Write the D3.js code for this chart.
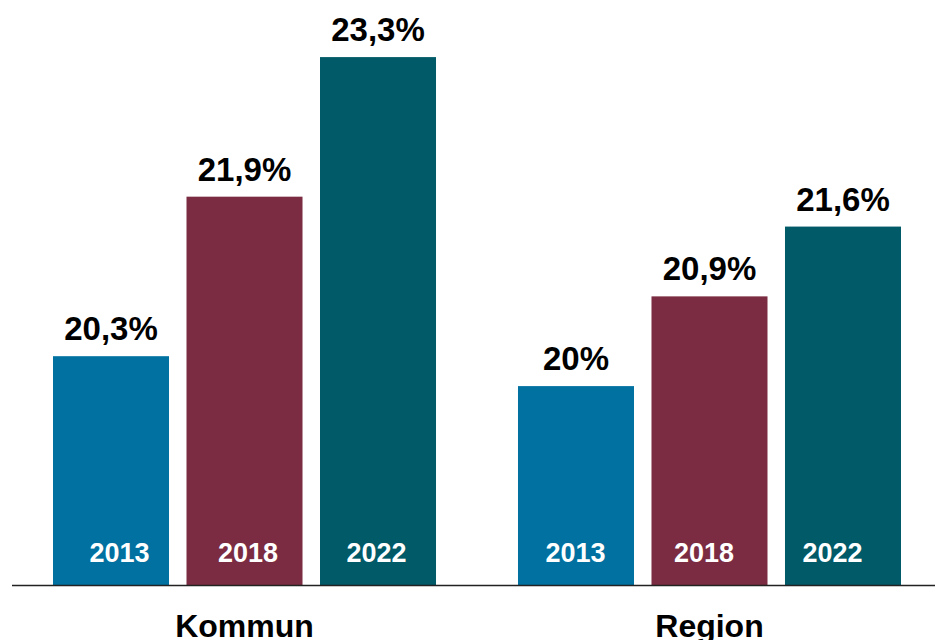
<!DOCTYPE html>
<html>
<head>
<meta charset="utf-8">
<script src="https://cdn.jsdelivr.net/npm/d3@7"></script>
<style>
  body { margin: 0; background: #fff; }
  svg { display: block; font-family: "Liberation Sans", Arial, sans-serif; font-weight: bold; }
</style>
</head>
<body>
<div id="chart"></div>
<script>
var groups = ["Kommun", "Region"];
var years = ["2013", "2018", "2022"];
var kommunValues = [20.3, 21.9, 23.3];
var regionValues = [20.0, 20.9, 21.6];
var colors = ["#0071a0", "#7b2c42", "#005a68"];

var width = 935,
    height = 640,
    baseY = 585.5;

var data = [];
groups.forEach(function(g, gi) {
  var vals = gi === 0 ? kommunValues : regionValues;
  years.forEach(function(y, i) {
    data.push({ group: g, year: y, value: vals[i] });
  });
});

var svg = d3.select("#chart")
  .append("svg")
  .attr("width", width)
  .attr("height", height);

var x0 = d3.scaleBand()
  .domain(groups)
  .range([53, 901])
  .paddingInner(0.1763)
  .paddingOuter(0);

var x1 = d3.scaleBand()
  .domain(years)
  .range([0, x0.bandwidth()])
  .paddingInner(0.131);

// year labels inside the bars are not quite centred on them
var xLabGroup = d3.scalePoint()
  .domain(groups)
  .range([248, 704]);

var xLab = d3.scalePoint()
  .domain(years)
  .range([-128.5, 128.5]);

var y = d3.scaleLinear()
  .domain([18, 24])
  .range([baseY, baseY - 6 * 99.7]);

var color = d3.scaleOrdinal().domain(years).range(colors);

var fmt = function(v) {
  return (v % 1 === 0 ? d3.format("d")(v) : d3.format(".1f")(v)).replace(".", ",") + "%";
};

var bars = svg.append("g").selectAll("g")
  .data(data)
  .enter().append("g");

bars.append("rect")
  .attr("x", function(d) { return x0(d.group) + x1(d.year); })
  .attr("y", function(d) { return y(d.value); })
  .attr("width", x1.bandwidth())
  .attr("height", function(d) { return baseY - y(d.value); })
  .style("fill", function(d) { return color(d.year); });

bars.append("text")
  .attr("x", function(d) { return x0(d.group) + x1(d.year) + x1.bandwidth() / 2; })
  .attr("y", function(d) { return y(d.value) - 16; })
  .attr("text-anchor", "middle")
  .style("font-size", "33px")
  .style("fill", "#000")
  .text(function(d) { return fmt(d.value); });

bars.append("text")
  .attr("x", function(d) { return xLabGroup(d.group) + xLab(d.year); })
  .attr("y", 562)
  .attr("text-anchor", "middle")
  .style("font-size", "27px")
  .style("fill", "#fff")
  .text(function(d) { return d.year; });

svg.append("line")
  .attr("x1", 12)
  .attr("x2", width)
  .attr("y1", baseY)
  .attr("y2", baseY)
  .style("stroke", "#222")
  .style("stroke-width", 1.5);

svg.append("g").selectAll("text")
  .data(groups)
  .enter().append("text")
  .attr("x", function(d) { return x0(d) + x0.bandwidth() / 2; })
  .attr("y", 637)
  .attr("text-anchor", "middle")
  .style("font-size", "32px")
  .style("fill", "#000")
  .text(function(d) { return d; });
</script>
</body>
</html>
